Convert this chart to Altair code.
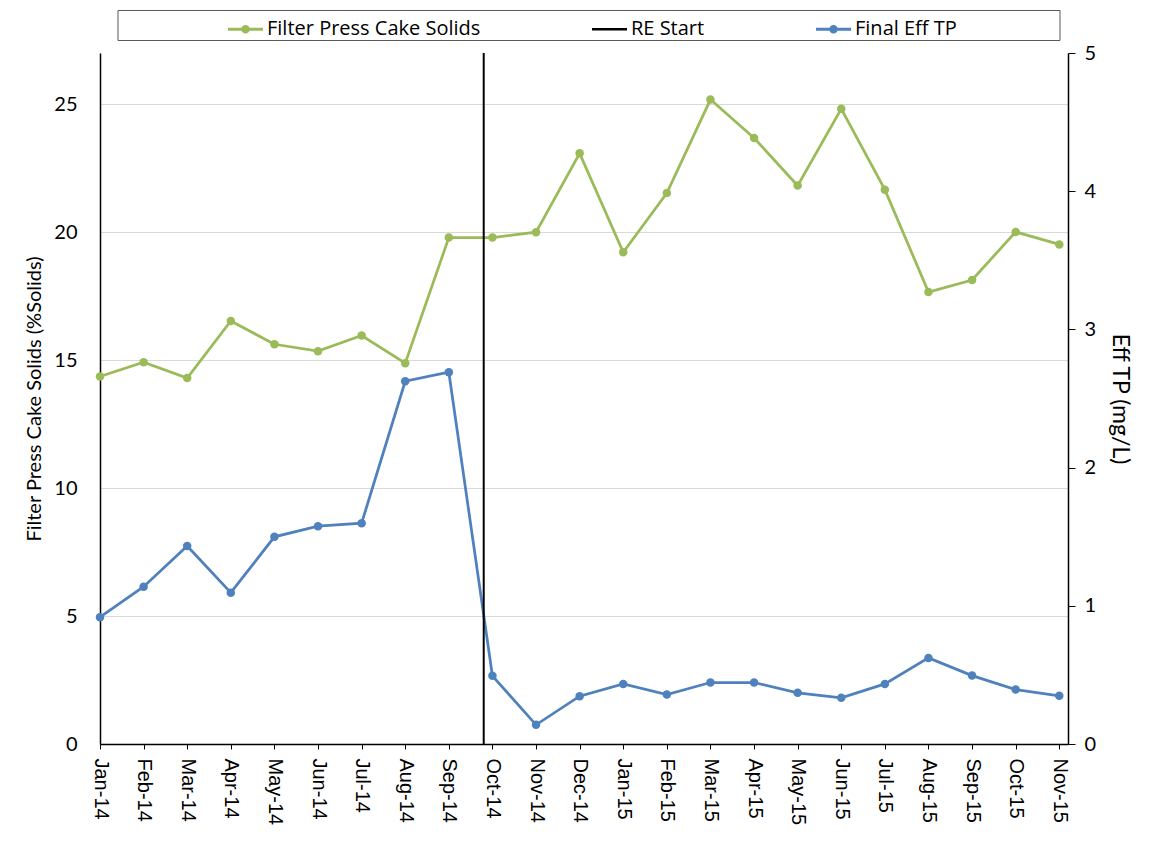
import json
import altair as alt
import pandas as pd

# ---------------- data ----------------
months = ["Jan-14", "Feb-14", "Mar-14", "Apr-14", "May-14", "Jun-14", "Jul-14",
          "Aug-14", "Sep-14", "Oct-14", "Nov-14", "Dec-14", "Jan-15", "Feb-15",
          "Mar-15", "Apr-15", "May-15", "Jun-15", "Jul-15", "Aug-15", "Sep-15",
          "Oct-15", "Nov-15"]
cake_solids = [14.36, 14.92, 14.30, 16.53, 15.62, 15.35, 15.96, 14.88, 19.79,
               19.79, 20.00, 23.08, 19.21, 21.53, 25.18, 23.68, 21.82, 24.82,
               21.66, 17.66, 18.13, 20.01, 19.52]
final_eff_tp = [0.918, 1.138, 1.433, 1.095, 1.499, 1.576, 1.598, 2.625, 2.690,
                0.493, 0.139, 0.346, 0.435, 0.358, 0.445, 0.445, 0.370, 0.334,
                0.435, 0.623, 0.495, 0.394, 0.349]
re_start_pos = [8.8]  # position on the month index axis
series_names = ["Filter Press Cake Solids", "RE Start", "Final Eff TP"]
series_colors = ["#9BBB59", "#000000", "#4F81BD"]
left_ticks = [0, 5, 10, 15, 20, 25]
right_ticks = [0, 1, 2, 3, 4, 5]

idx = list(range(len(months)))
df_cake = pd.DataFrame({"idx": idx, "month": months, "val": cake_solids})
df_tp = pd.DataFrame({"idx": idx, "month": months, "val": final_eff_tp})
df_re = pd.DataFrame({"idx": re_start_pos})
df_leg = pd.DataFrame({"series": series_names, "idx": [None] * 3})
df_box = pd.DataFrame({"box": [0]})

LINEDOT = ("M-1.4,-0.12H1.4V0.12H-1.4Z "
           "M-0.34,0A0.34,0.34 0 1,1 0.34,0A0.34,0.34 0 1,1 -0.34,0Z")
LINE = "M-1.4,-0.1H1.4V0.1H-1.4Z"

FONT = "Lato"
LFONT = "Open Sans"
XFONT = "Liberation Sans"
NBSP = "\u00a0"

color_scale = alt.Scale(domain=series_names, range=series_colors)
shape_scale = alt.Scale(domain=series_names, range=[LINEDOT, LINE, LINEDOT])

x_enc = alt.X(
    "idx:Q",
    scale=alt.Scale(domain=[0, 22.2], nice=False, zero=False),
    axis=alt.Axis(
        values=idx,
        labelExpr=f"{json.dumps(months)}[datum.value]",
        title=None,
        grid=False,
        labelAngle=90,
        labelAlign="left",
        labelBaseline="middle",
        labelFont=XFONT,
        labelFontSize=20,
        labelPadding=9,
        tickSize=5,
        tickColor="black",
        domainColor="black",
        domainWidth=1.5,
        labelOverlap=False,
    ),
)

y_left = alt.Y(
    "val:Q",
    scale=alt.Scale(domain=[0, 27], nice=False, zero=True),
    axis=alt.Axis(
        values=left_ticks,
        title="Filter Press Cake Solids (%Solids)",
        titleFontSize=20,
        titlePadding=9,
        ticks=False,
        grid=True,
        gridColor="#D9D9D9",
        gridWidth=1,
        domainColor="black",
        domainWidth=1.5,
        labelPadding=23,
        labelFontSize=20,
    ),
)

y_right = alt.Y(
    "val:Q",
    scale=alt.Scale(domain=[0, 5], nice=False, zero=True),
    axis=alt.Axis(
        orient="right",
        values=right_ticks,
        title="Eff TP (mg/L)",
        titleFontSize=23,
        titlePadding=12,
        grid=False,
        tickSize=7,
        tickColor="black",
        domainColor="black",
        domainWidth=1.5,
        labelPadding=9,
        labelFontSize=20,
    ),
)

green = alt.value(series_colors[0])
blue = alt.value(series_colors[2])

cake_layer = alt.layer(
    alt.Chart(df_cake).mark_line(strokeWidth=2.75).encode(x=x_enc, y=y_left, color=green),
    alt.Chart(df_cake).mark_point(filled=True, size=72, opacity=1).encode(
        x=x_enc, y=y_left, color=green),
)

tp_layer = alt.layer(
    alt.Chart(df_tp).mark_line(strokeWidth=2.75).encode(x=x_enc, y=y_right, color=blue),
    alt.Chart(df_tp).mark_point(filled=True, size=72, opacity=1).encode(
        x=x_enc, y=y_right, color=blue),
)

re_rule = alt.Chart(df_re).mark_rule(strokeWidth=2).encode(
    x=x_enc, color=alt.value(series_colors[1]))

legend = alt.Legend(
    orient="none",
    legendX=18,
    legendY=-39.5,
    direction="horizontal",
    title=NBSP,
    titleOrient="left",
    titlePadding=112,
    titleFontSize=18,
    labelFont=LFONT,
    labelFontSize=20,
    labelColor="black",
    labelOffset=9,
    labelLimit=500,
    symbolSize=625,
    symbolStrokeWidth=0,
    columnPadding=111,
    padding=3,
)

legend_layer = alt.Chart(df_leg).mark_point(filled=True, size=625, opacity=1).encode(
    x=x_enc,
    color=alt.Color("series:N", scale=color_scale, legend=legend),
    shape=alt.Shape("series:N", scale=shape_scale, legend=legend),
)

# frame drawn around the legend (Excel style legend box)
legend_frame = alt.Chart(df_box).mark_rect(
    fill="transparent", stroke="#595959", strokeWidth=1
).encode(
    x=alt.value(18), x2=alt.value(960), y=alt.value(-42.5), y2=alt.value(-12.5)
)

chart = (
    alt.layer(cake_layer, tp_layer, re_rule, legend_layer, legend_frame)
    .resolve_scale(y="independent")
    .properties(width=968, height=691,
                padding={"left": 16, "top": 2, "right": 5, "bottom": 5})
    .configure_view(stroke=None)
    .configure_axis(labelFont=FONT, labelColor="black", titleFont=FONT,
                    titleFontWeight="normal", titleColor="black")
    .configure_axisX(labelFont=XFONT)
)

chart.save("out.html", embed_options={"renderer": "svg", "actions": False})
